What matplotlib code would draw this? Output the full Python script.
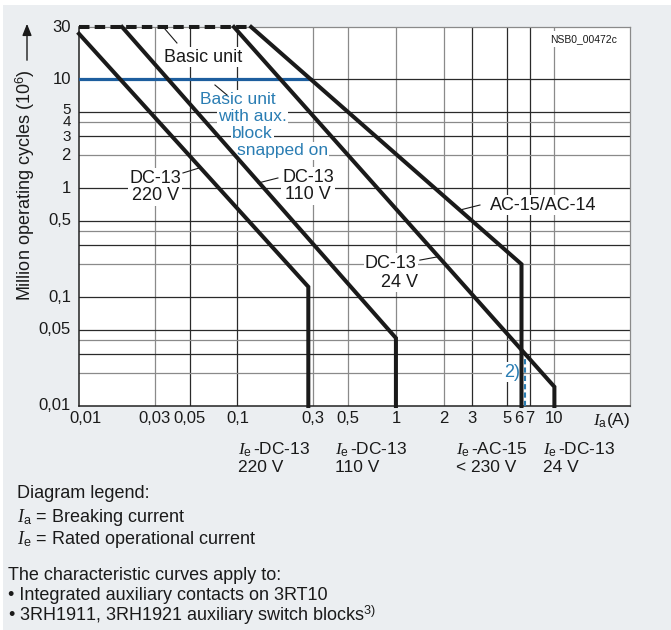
import matplotlib
matplotlib.use('Agg')
import matplotlib.pyplot as plt
from matplotlib.patches import Rectangle, FancyArrowPatch
from matplotlib.transforms import blended_transform_factory, offset_copy

# ============================================
#   data (Ia in A, cycles in 10^6)
# ============================================

dc220_x = [0.01, 0.28, 0.28]
dc220_y = [26.0, 0.124, 0.01]

dc110_x = [0.0187, 1.0, 1.0]
dc110_y = [30.0, 0.042, 0.01]

dc24_x = [0.095, 10.0, 10.0]
dc24_y = [30.0, 0.015, 0.01]

ac15_x = [0.122, 6.2, 6.2]
ac15_y = [30.0, 0.2, 0.01]

basic_x = [0.01, 0.122]
basic_y = [30.0, 30.0]

aux_x = [0.01, 0.29]
aux_y = [10.0, 10.0]

note2_x = [6.5, 6.5]
note2_y = [0.01, 0.03]

xticks = [0.01, 0.03, 0.05, 0.1, 0.3, 0.5, 1, 2, 3, 5, 6, 7, 10]
xticklabels = ["0,01", "0,03", "0,05", "0,1", "0,3", "0,5", "1", "2", "3", "5", "6", "7", "10"]
yticks = [30, 10, 5, 4, 3, 2, 1, 0.5, 0.1, 0.05, 0.01]
yticklabels = ["30", "10", "5", "4", "3", "2", "1", "0,5", "0,1", "0,05", "0,01"]

xgrid_dark = [0.05, 0.1, 3, 5, 7]
xgrid_light = [0.03, 0.3, 0.5, 1, 2, 10]
ygrid_dark = [10, 5, 3, 1, 0.5, 0.3, 0.1, 0.05, 0.03]
ygrid_light = [4, 2, 0.4, 0.2, 0.04, 0.02]

BLUE_LINE = '#1d5e9e'
BLUE_TEXT = '#2a7db3'
BG = '#ebeef1'
INK = '#1a1a1a'

plt.rcParams['font.family'] = ['Liberation Sans', 'DejaVu Sans']
plt.rcParams['mathtext.fontset'] = 'custom'
plt.rcParams['mathtext.rm'] = 'Liberation Sans'
plt.rcParams['mathtext.it'] = 'Liberation Serif:italic'

W, H = 671, 630
fig = plt.figure(figsize=(W / 100, H / 100), dpi=100)
fig.patch.set_facecolor(BG)
# thin white margin at top and left
fig.patches.append(Rectangle((0, 1 - 5 / H), 1, 5 / H, transform=fig.transFigure,
                             facecolor='white', edgecolor='none', zorder=0))
fig.patches.append(Rectangle((0, 0), 3 / W, 1, transform=fig.transFigure,
                             facecolor='white', edgecolor='none', zorder=0))

ax = fig.add_axes([79 / W, 1 - 406 / H, (630 - 79) / W, (406 - 27) / H])
ax.set_facecolor('white')
ax.set_xscale('log')
ax.set_yscale('log')
ax.set_xlim(0.01, 30)
ax.set_ylim(0.01, 30)
ax.minorticks_off()
ax.set_xticks([])
ax.set_yticks([])

for v in xgrid_dark:
    ax.axvline(v, color='#2a2a2a', lw=0.9, zorder=1)
for v in xgrid_light:
    ax.axvline(v, color='#8a8a8a', lw=0.9, zorder=1)
for v in ygrid_dark:
    ax.axhline(v, color='#2a2a2a', lw=0.9, zorder=1)
for v in ygrid_light:
    ax.axhline(v, color='#8a8a8a', lw=0.9, zorder=1)

for s in ['top', 'right']:
    ax.spines[s].set_color('#8a8a8a')
    ax.spines[s].set_linewidth(0.9)
for s in ['left', 'bottom']:
    ax.spines[s].set_color('#222222')
    ax.spines[s].set_linewidth(1.1)

# tick labels (drawn by hand so the crowded ones can be nudged)
xtrans = blended_transform_factory(ax.transData, ax.transAxes)
ytrans = blended_transform_factory(ax.transAxes, ax.transData)
for v, s in zip(xticks, xticklabels):
    dx = 6 if v == 0.01 else 0
    t = offset_copy(xtrans, fig=fig, x=dx, y=-5, units='dots')
    ax.text(v, 0, s, transform=t, ha='center', va='top', fontsize=12, color=INK)
for v, s in zip(yticks, yticklabels):
    dy = {5: 2, 3: -1}.get(v, 0)
    size = 11 if v in (5, 4, 3) else 12
    t = offset_copy(ytrans, fig=fig, x=-8, y=dy, units='dots')
    ax.text(0, v, s, transform=t, ha='right', va='center', fontsize=size, color=INK)

# curves
lw = 2.9
for xs, ys in [(dc220_x, dc220_y), (dc110_x, dc110_y), (dc24_x, dc24_y), (ac15_x, ac15_y)]:
    ax.plot(xs, ys, color=INK, lw=lw, solid_joinstyle='miter', zorder=5, clip_on=False)
ax.plot(basic_x, basic_y, color=INK, lw=lw, dashes=(2.6, 1.3), zorder=5, clip_on=False)
ax.plot(aux_x, aux_y, color=BLUE_LINE, lw=2.3, zorder=4)
ax.plot(note2_x, note2_y, color=BLUE_TEXT, lw=1.5, dashes=(2.5, 1.5), zorder=4)

box = dict(facecolor='white', edgecolor='none', pad=1.0)
fs = 13

def label(x, y, s, color=INK, ha='center', size=fs, **kw):
    ax.text(x, y, s, color=color, ha=ha, va='center', fontsize=size, bbox=box, zorder=3, **kw)

def leader(x0, y0, x1, y1):
    ax.plot([x0, x1], [y0, y1], color=INK, lw=0.8, zorder=3)

label(0.0606, 15.9, "Basic unit")
leader(0.0349, 28.7, 0.0415, 21.4)

label(0.058, 6.55, "Basic unit", color=BLUE_TEXT, ha='left', size=12.5)
label(0.0753, 4.55, "with aux.", color=BLUE_TEXT, ha='left', size=12.5)
label(0.0923, 3.17, "block", color=BLUE_TEXT, ha='left', size=12.5)
label(0.0993, 2.2, "snapped on", color=BLUE_TEXT, ha='left', size=12.5)
leader(0.0721, 8.81, 0.0859, 7.13)

label(0.0302, 1.02, "DC-13\n220 V", linespacing=1.05)
leader(0.0453, 1.374, 0.0571, 1.524)

label(0.2786, 1.04, "DC-13\n110 V", linespacing=1.05)
leader(0.1346, 1.11, 0.180, 1.236)

label(8.46, 0.698, "AC-15/AC-14")
leader(2.535, 0.628, 3.39, 0.698)

label(0.929, 0.205, "DC-13")
label(1.059, 0.137, "24 V")
leader(1.416, 0.218, 1.815, 0.233)

label(5.39, 0.0205, "2)", color=BLUE_TEXT)

ax.text(15.35, 23.3, "NSB0_00472c", fontsize=7.5, ha='center', va='center',
        color=INK, bbox=dict(facecolor='white', edgecolor='none', pad=2), zorder=3)

# x axis unit label
ax.text(1.0, -0.012, r"$I_\mathrm{a}$(A)", transform=ax.transAxes, ha='right', va='top',
        fontsize=12.5, color=INK)

# y axis label with arrow
fig.text(25 / W, 1 - 185 / H, r"Million operating cycles (10$^6$)", rotation=90,
         ha='center', va='center', fontsize=13, color=INK)
fig.add_artist(FancyArrowPatch(
    (27 / W, 1 - 63 / H), (27 / W, 1 - 21 / H), transform=fig.transFigure,
    arrowstyle='-|>,head_length=7,head_width=2.8', color=INK, lw=1.0))

# rated current labels below the axis
def ftext(px, py, s, **kw):
    fig.text(px / W, 1 - py / H, s, ha='left', va='center', color=INK, **kw)

for px, s1, s2 in [(238, r"$I_\mathrm{e}\,$-DC-13", "220 V"),
                   (335, r"$I_\mathrm{e}\,$-DC-13", "110 V"),
                   (456, r"$I_\mathrm{e}\,$-AC-15", "< 230 V"),
                   (543, r"$I_\mathrm{e}\,$-DC-13", "24 V")]:
    ftext(px, 450, s1, fontsize=12.5)
    ftext(px, 468, s2, fontsize=12.5)

ftext(17, 494, "Diagram legend:", fontsize=13)
ftext(17, 517, r"$I_\mathrm{a}$ = Breaking current", fontsize=13)
ftext(17, 539, r"$I_\mathrm{e}$ = Rated operational current", fontsize=13)
ftext(8, 575, "The characteristic curves apply to:", fontsize=13)
ftext(8, 595, "\u2022 Integrated auxiliary contacts on 3RT10", fontsize=13)
ftext(8, 615, "\u2022 3RH1911, 3RH1921 auxiliary switch blocks$^{3)}$", fontsize=13)

fig.savefig("out.png", dpi=100, facecolor=fig.get_facecolor())
